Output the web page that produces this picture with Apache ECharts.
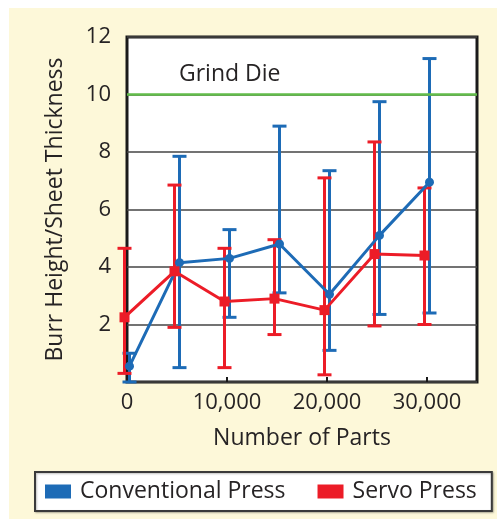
<!DOCTYPE html>
<html>
<head>
<meta charset="utf-8">
<script src="https://cdn.jsdelivr.net/npm/echarts@6/dist/echarts.min.js"></script>
<style>
html, body { margin: 0; padding: 0; background: #fff; }
#wrap { position: absolute; left: 9px; top: 8px; width: 488px; height: 511px; background: #fdf8d9; }
#chart { width: 488px; height: 511px; }
</style>
</head>
<body>
<div id="wrap"><div id="chart"></div></div>
<script>
// number of parts produced
var parts = [0, 5000, 10000, 15000, 20000, 25000, 30000];
// conventional press: mean and error bar ends
var convMean = [0.55, 4.15, 4.3, 4.8, 3.05, 5.1, 6.95];
var convLow = [0.0, 0.5, 2.25, 3.1, 1.1, 2.35, 2.4];
var convHigh = [1.0, 7.85, 5.3, 8.9, 7.35, 9.75, 11.25];
// servo press
var servoMean = [2.25, 3.85, 2.8, 2.9, 2.5, 4.45, 4.4];
var servoLow = [0.3, 1.9, 0.5, 1.65, 0.25, 1.95, 2.0];
var servoHigh = [4.65, 6.85, 4.65, 4.95, 7.1, 8.35, 6.75];
var grindDie = 10;

var blue = '#1d6bb6';
var red = '#ec1c27';
var txt = '#262324';
var font = 'Open Sans';

var chart = echarts.init(document.getElementById('chart'));

function pairs(xs, ys) {
    return xs.map(function(x, i) { return [x, ys[i]]; });
}
function bars(xs, lo, hi) {
    return xs.map(function(x, i) { return [x, lo[i], hi[i]]; });
}
function errorBar(color) {
    return function(params, api) {
        var top = api.coord([api.value(0), api.value(2)]);
        var bot = api.coord([api.value(0), api.value(1)]);
        var w = 7;
        var st = { stroke: color, lineWidth: 3 };
        return {
            type: 'group',
            children: [
                { type: 'line', shape: { x1: top[0], y1: top[1], x2: bot[0], y2: bot[1] }, style: st },
                { type: 'line', shape: { x1: top[0] - w, y1: top[1], x2: top[0] + w, y2: top[1] }, style: st },
                { type: 'line', shape: { x1: bot[0] - w, y1: bot[1], x2: bot[0] + w, y2: bot[1] }, style: st }
            ]
        };
    };
}

var option = {
    animation: false,
    grid: {
        left: 118, top: 29, right: 20, bottom: 137,
        show: true, backgroundColor: '#fff',
        borderColor: '#1a1a1a', borderWidth: 3
    },
    legend: {
        left: 26, top: 464,
        data: [
            { name: 'Conventional Press', icon: 'rect', itemStyle: { color: blue } },
            { name: 'Servo Press', icon: 'rect', itemStyle: { color: red } }
        ],
        itemWidth: 26, itemHeight: 14, itemGap: 32,
        padding: [8, 15, 8, 10],
        backgroundColor: '#fff', borderColor: '#3a3a3a', borderWidth: 2,
        shadowColor: 'rgba(0,0,0,0.25)', shadowBlur: 2, shadowOffsetX: 1, shadowOffsetY: 1,
        textStyle: { fontFamily: font, fontSize: 23, color: txt, padding: [0, 0, 0, 4] }
    },
    xAxis: [{
        type: 'value', min: 0, max: 35000, interval: 10000,
        name: 'Number of Parts', nameLocation: 'middle', nameGap: 45,
        nameTextStyle: { fontFamily: font, fontSize: 23, color: txt },
        axisLine: { show: false },
        axisTick: { show: true, inside: true, length: 5, lineStyle: { color: '#1a1a1a', width: 2 } },
        axisLabel: {
            showMaxLabel: false, margin: 10,
            fontFamily: font, fontSize: 22, color: txt,
            formatter: function(v) { return v.toLocaleString('en-US'); }
        },
        splitLine: { show: false }
    }, {
        type: 'value', min: -250, max: 34750, show: false
    }, {
        type: 'value', min: 250, max: 35250, show: false
    }],
    yAxis: {
        type: 'value', min: 0, max: 12, interval: 2,
        name: 'Burr Height/Sheet Thickness', nameLocation: 'middle', nameGap: 60,
        nameTextStyle: { fontFamily: font, fontSize: 23, color: txt },
        axisLine: { show: false },
        axisTick: { show: false },
        axisLabel: { showMinLabel: false, margin: 16, fontFamily: font, fontSize: 22, color: txt },
        splitLine: { lineStyle: { color: '#444', width: 1.5 } }
    },
    series: [{
        name: 'Conventional Press', type: 'custom', xAxisIndex: 1,
        renderItem: errorBar(blue), data: bars(parts, convLow, convHigh), z: 2
    }, {
        name: 'Servo Press', type: 'custom', xAxisIndex: 2,
        renderItem: errorBar(red), data: bars(parts, servoLow, servoHigh), z: 2
    }, {
        name: 'Conventional Press', type: 'line', xAxisIndex: 1, clip: false,
        data: pairs(parts, convMean),
        symbol: 'circle', symbolSize: 9,
        lineStyle: { color: blue, width: 3 }, itemStyle: { color: blue }, z: 3,
        markLine: {
            silent: true, symbol: 'none',
            lineStyle: { color: '#62bd4a', width: 2.5, type: 'solid' },
            label: {
                show: true, position: 'insideStartTop', distance: [52, 9],
                formatter: 'Grind Die', fontFamily: font, fontSize: 23, color: txt
            },
            data: [{ yAxis: grindDie }]
        }
    }, {
        name: 'Servo Press', type: 'line', xAxisIndex: 2, clip: false,
        data: pairs(parts, servoMean),
        symbol: 'rect', symbolSize: 10,
        lineStyle: { color: red, width: 3 }, itemStyle: { color: red }, z: 4
    }]
};
chart.setOption(option);
</script>
</body>
</html>
